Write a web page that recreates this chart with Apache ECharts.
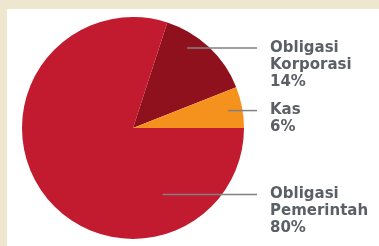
<!DOCTYPE html>
<html>
<head>
<meta charset="utf-8">
<script src="https://cdn.jsdelivr.net/npm/echarts@6/dist/echarts.min.js"></script>
<style>
  html, body { margin: 0; padding: 0; }
  body { width: 379px; height: 246px; background: #efe6d0; position: relative; overflow: hidden; }
  #chart { position: absolute; left: 7px; top: 9px; width: 372px; height: 237px; background: #ffffff; }
</style>
</head>
<body>
<div id="chart"></div>
<script>
// data
var categories = ['Obligasi Korporasi', 'Kas', 'Obligasi Pemerintah'];
var labelLines = [['Obligasi', 'Korporasi'], ['Kas'], ['Obligasi', 'Pemerintah']];
var values = [14, 6, 80];
var colors = ['#90111e', '#f5921e', '#c21a2e'];

// pie geometry (chart px)
var cx = 126, cy = 119, R = 111;
// where each leader line starts: [angle deg, fraction of radius]
var anchors = [[56, 0.87], [10.4, 0.87], [-66, 0.655]];
var lineEndX = 250, gap = 13, lineH = 17;

function anchorPoint(i) {
  var rad = anchors[i][0] * Math.PI / 180;
  return [cx + anchors[i][1] * R * Math.cos(rad), cy - anchors[i][1] * R * Math.sin(rad)];
}

// leader line is drawn as a rich text segment in front of the label text
function richFor(i) {
  var w = lineEndX - anchorPoint(i)[0];
  return {
    ln: { width: w, height: 1.5, lineHeight: lineH, backgroundColor: '#7f8184' },
    gp: { width: gap, lineHeight: lineH },
    sp: { width: w + gap, lineHeight: lineH },
    t: {
      fontFamily: 'DejaVu Sans', fontWeight: 'bold', fontSize: 15,
      lineHeight: lineH, color: '#5b5f66'
    }
  };
}

var myChart = echarts.init(document.getElementById('chart'), null, {renderer: 'canvas'});

var option = {
  animation: false,
  series: [{
    type: 'pie',
    center: [cx, cy],
    radius: [0, R],
    startAngle: 72,
    clockwise: true,
    silent: true,
    avoidLabelOverlap: false,
    itemStyle: { borderWidth: 0 },
    label: {
      show: true,
      position: 'outside',
      formatter: function (p) {
        var rows = labelLines[p.dataIndex].concat([p.value + '%']);
        return rows.map(function (r, k) {
          return (k === 0 ? '{ln|}{gp|}' : '{sp|}') + '{t|' + r + '}';
        }).join('\n');
      }
    },
    labelLine: { show: false },
    labelLayout: function (params) {
      var p = anchorPoint(params.dataIndex);
      return {
        x: p[0],
        y: p[1] - lineH / 2,
        align: 'left',
        verticalAlign: 'top'
      };
    },
    data: categories.map(function (c, i) {
      return {
        name: c,
        value: values[i],
        itemStyle: { color: colors[i] },
        label: { rich: richFor(i) }
      };
    })
  }]
};
myChart.setOption(option);
</script>
</body>
</html>
